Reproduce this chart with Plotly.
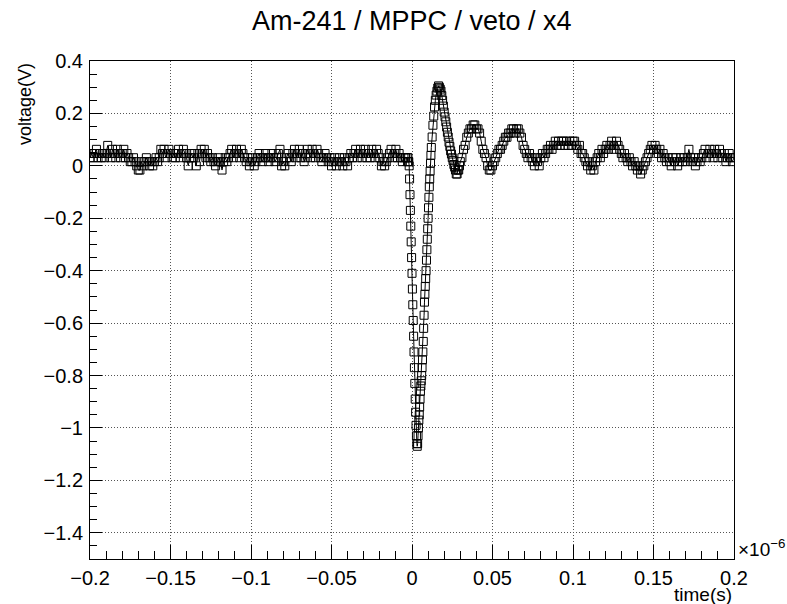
import numpy as np
import plotly.graph_objects as go

# ---- data: waveform samples (time in ns, voltage in V) ----
# pre-pulse baseline, 1 ns sampling, ends at t = -4 ns
pre_end_ns = -4.0
pre_step_ns = 1.0
v_pre = [
    0.031, 0.047, 0.031, 0.047, 0.063, 0.031, 0.047, 0.031, 0.047, 0.031,
    0.047, 0.078, 0.047, 0.031, 0.063, 0.047, 0.031, 0.063, 0.047, 0.031,
    0.047, 0.063, 0.031, 0.047, 0.031, 0.016,
    0.016, 0.031, 0.016, 0.0, -0.016, -0.016, 0.016, 0.0, 0.016, 0.031,
    0.016, 0.0, 0.016, 0.0, 0.016, 0.031, 0.016,
    0.031, 0.063, 0.047, 0.063, 0.031, 0.047, 0.063, 0.047, 0.031, 0.047,
    0.031, 0.047, 0.063, 0.031, 0.047, 0.063, 0.047, 0.031, 0.0, 0.031,
    0.047, 0.031, 0.047, 0.0, 0.047, 0.016, 0.063, 0.047, 0.063, 0.031,
    0.047,
    0.031, 0.016, 0.031, 0.016, 0.0, 0.016, 0.031, 0.016, -0.016, 0.016,
    0.031, 0.016, 0.031,
    0.047, 0.063, 0.031, 0.047, 0.063, 0.047, 0.031, 0.063, 0.047, 0.031,
    0.016, 0.031, 0.0, 0.016, 0.031, 0.0, 0.016, 0.031,
    0.047, 0.031, 0.016, 0.031, 0.047, 0.031, 0.016, 0.031, 0.047, 0.031,
    0.016, 0.031, 0.047, 0.063, 0.0, 0.016, 0.0, 0.031, 0.047, 0.031,
    0.016, 0.047, 0.063, 0.031, 0.047, 0.063, 0.031, 0.047, 0.016, 0.031,
    0.063, 0.047, 0.031, 0.063, 0.047, 0.031, 0.063, 0.047, 0.031, 0.016,
    0.031, 0.047, 0.031, 0.016, 0.031, 0.0, 0.016, 0.031, 0.0, 0.016,
    0.031, 0.016, 0.0, 0.031, 0.016, 0.0, 0.031, 0.047, 0.031, 0.047,
    0.063, 0.031, 0.047, 0.063, 0.031, 0.047, 0.063, 0.031, 0.047, 0.031,
    0.063, 0.047, 0.031, 0.063, 0.047, 0.031, 0.0, 0.016, 0.0, 0.016,
    0.031, 0.047, 0.063, 0.031, 0.047, 0.063, 0.031, 0.047, 0.031, 0.016,
    0.031, 0.031,
]

# main pulse, 0.25 ns sampling from t = -3 ns
pulse_start_ns = -3.0
pulse_step_ns = 0.25
v_pulse = [
    0.031, 0.016, 0.031, 0.016, 0.016, 0.0, -0.05, -0.11, -0.17, -0.23,
    -0.29, -0.35, -0.41, -0.47, -0.53, -0.59, -0.65, -0.71, -0.77, -0.83,
    -0.89, -0.94, -0.99, -1.03, -1.06, -1.07, -1.06, -1.03, -1.00, -0.97,
    -0.95, -0.92, -0.89, -0.86, -0.84, -0.82, -0.80, -0.77, -0.74, -0.71,
    -0.67, -0.62, -0.57, -0.52, -0.49, -0.46, -0.43, -0.40, -0.36, -0.32,
    -0.28, -0.24, -0.20, -0.16, -0.12, -0.08, -0.05, -0.02, 0.01, 0.04,
    0.07,
]

# first overshoot, 0.5 ns sampling from t = 12.5 ns
ring_start_ns = 12.5
ring_step_ns = 0.5
v_ring = [
    0.11, 0.155, 0.19, 0.225, 0.25, 0.27, 0.285, 0.297, 0.305, 0.30,
    0.293, 0.285, 0.268, 0.25, 0.228, 0.205, 0.187, 0.168, 0.148, 0.128,
    0.11, 0.09, 0.074, 0.057, 0.045, 0.031, 0.02, 0.005, -0.005, -0.016,
    -0.031, -0.031, -0.016, -0.016, 0.0, 0.016,
]

# ringing and tail, 1 ns sampling from t = 31 ns
post_start_ns = 31.0
post_step_ns = 1.0
v_post = [
    0.031, 0.063, 0.078, 0.109, 0.125, 0.141, 0.141, 0.156, 0.156, 0.141,
    0.141, 0.125, 0.094, 0.063, 0.047, 0.031, 0.0, -0.016, -0.016, 0.0,
    0.016, 0.031, 0.047, 0.063, 0.063, 0.078, 0.094, 0.109, 0.109, 0.125,
    0.125, 0.141, 0.141, 0.125, 0.141, 0.141, 0.125, 0.109, 0.078, 0.063,
    0.047, 0.031, 0.047, 0.031, 0.016, 0.0, 0.031, 0.016, 0.0, 0.031,
    0.047, 0.031, 0.047, 0.063, 0.063, 0.078, 0.063, 0.078, 0.094, 0.078,
    0.094, 0.078, 0.094, 0.094, 0.078, 0.094, 0.078, 0.094, 0.078, 0.094,
    0.094, 0.078, 0.063, 0.078, 0.047, 0.047, 0.031, 0.016, 0.0, 0.016,
    -0.016, 0.0, -0.016, 0.016, 0.031, 0.047, 0.031, 0.063, 0.047, 0.063,
    0.078, 0.063, 0.078, 0.094, 0.078, 0.063, 0.094, 0.078, 0.063, 0.047,
    0.031, 0.047, 0.031, 0.016, 0.031, 0.016, 0.0, 0.016, 0.0, -0.016,
    0.0, -0.031, -0.016, 0.0, 0.016, 0.031, 0.047, 0.063, 0.078, 0.063,
    0.078, 0.063, 0.047, 0.063, 0.031, 0.047, 0.031, 0.016, 0.031, 0.016,
    0.0, 0.031, 0.016, 0.031, 0.0, 0.016, 0.031, 0.016, 0.031, 0.016,
    0.031, 0.063, 0.031, 0.016, 0.031, 0.0, 0.016, 0.031, 0.016, 0.031,
    0.047, 0.063, 0.031, 0.047, 0.063, 0.047, 0.031, 0.063, 0.047, 0.031,
    0.063, 0.047, 0.031, 0.047, 0.016, 0.031, 0.047, 0.031, 0.016, 0.031,
]

x_tick_vals = [-0.2, -0.15, -0.1, -0.05, 0, 0.05, 0.1, 0.15, 0.2]
title_text = "Am-241 / MPPC / veto / x4"
x_title = "time(s)"
y_title = "voltage(V)"

# ---- assemble sample times (axis in units of 1e-6 s) ----
n_pre = len(v_pre)
t_pre = pre_end_ns - pre_step_ns * np.arange(n_pre)[::-1]
t_pulse = pulse_start_ns + pulse_step_ns * np.arange(len(v_pulse))
t_ring = ring_start_ns + ring_step_ns * np.arange(len(v_ring))
t_post = post_start_ns + post_step_ns * np.arange(len(v_post))

t_all = np.concatenate([t_pre, t_pulse, t_ring, t_post]) * 1e-3
v_all = np.concatenate([v_pre, v_pulse, v_ring, v_post])

fig = go.Figure()
fig.add_trace(go.Scatter(
    x=t_all, y=v_all, mode="lines+markers",
    line=dict(color="black", width=1),
    marker=dict(symbol="square-open", size=8, color="black",
                line=dict(color="black", width=1)),
    showlegend=False,
))

FONT = "Liberation Sans, Arial, Helvetica, sans-serif"
W, H = 787, 604
L, R, T, B = 90, 53, 61, 45
PH = H - T - B

axis_common = dict(
    showline=True, linecolor="black", linewidth=1, mirror=True,
    ticks="inside", tickcolor="black", tickwidth=1,
    showgrid=True, gridcolor="#555", griddash="1px,2px", gridwidth=1,
    zeroline=False,
    tickfont=dict(family=FONT, size=20, color="black"),
)

fig.update_layout(
    width=W, height=H,
    margin=dict(l=L, r=R, t=T, b=B, pad=0),
    paper_bgcolor="white", plot_bgcolor="white",
    font=dict(family=FONT, color="black"),
    xaxis=dict(
        range=[-0.2, 0.2], tickvals=x_tick_vals, ticklen=14,
        minor=dict(dtick=0.01, ticklen=8, ticks="inside", tickcolor="black",
                   showgrid=False),
        ticklabelstandoff=1,
        **axis_common,
    ),
    yaxis=dict(
        range=[-1.5, 0.4], dtick=0.2, tick0=0, ticklen=12,
        minor=dict(dtick=0.05, ticklen=7, ticks="inside", tickcolor="black",
                   showgrid=False),
        ticklabelstandoff=2,
        **axis_common,
    ),
    annotations=[
        dict(text=title_text, xref="paper", yref="paper", x=0.5,
             y=1 + (T - 21) / PH, xanchor="center", yanchor="middle",
             showarrow=False, font=dict(family=FONT, size=27, color="black")),
        dict(text=y_title, xref="paper", yref="paper",
             x=(25 - L) / (W - L - R), y=1.0, xanchor="center", yanchor="top",
             textangle=-90, showarrow=False,
             font=dict(family=FONT, size=18, color="black")),
        dict(text=x_title, xref="paper", yref="paper", x=1.0,
             y=-(594 - (H - B)) / PH, xanchor="right", yanchor="middle",
             showarrow=False, font=dict(family=FONT, size=19, color="black")),
        dict(text="×10<sup>−6</sup>", xref="paper", yref="paper", x=1.003,
             y=((H - B) - 548) / PH, xanchor="left", yanchor="middle",
             showarrow=False, font=dict(family=FONT, size=19, color="black")),
    ],
)

fig.write_html("out.html")
